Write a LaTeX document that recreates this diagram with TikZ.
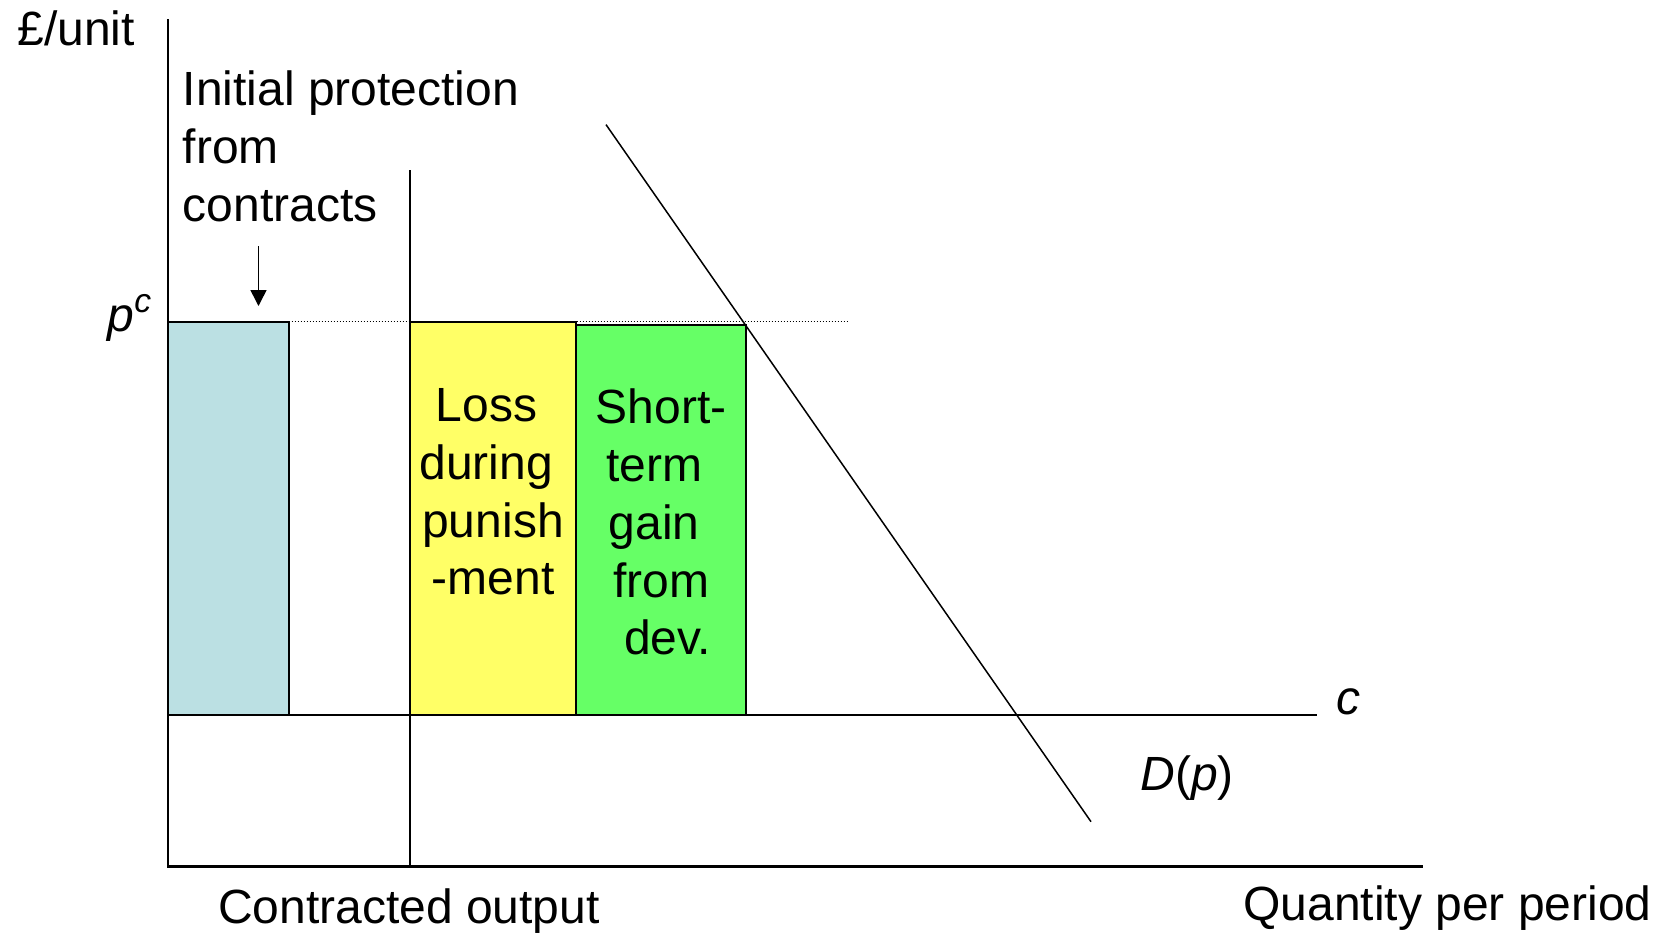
\documentclass[tikz,border=0pt]{standalone}
\usepackage{fontspec}
\setmainfont{Liberation Sans}
\usetikzlibrary{arrows.meta}
\definecolor{cyanfill}{HTML}{BBE0E3}
\definecolor{yellowfill}{HTML}{FFFF66}
\definecolor{greenfill}{HTML}{66FF66}
\newcommand\padsp{\hbox to .278em{}}
\begin{document}
\begin{tikzpicture}[x=0.5pt,y=-0.5pt,
  lbl/.style={inner sep=0pt, font=\fontsize{24}{28.9}\selectfont},
  axisline/.style={line width=1.1pt},
  plainline/.style={line width=0.75pt},
  boxedge/.style={line width=0.9pt},
  dotline/.style={line width=0.75pt, dash pattern=on 0.75pt off 0.75pt},
  arrowline/.style={line width=0.75pt, -{Triangle[length=8pt,width=8pt]}}]
\useasboundingbox (0,0) rectangle (1670,934);
% coordinates
\coordinate (O) at (168,866.5);
\coordinate (ytop) at (168,19);
\coordinate (xend) at (1423,866.5);
\coordinate (vtop) at (410,170);
\coordinate (vbot) at (410,866.5);
\coordinate (cleft) at (168,715);
\coordinate (cright) at (1317,715);
\coordinate (dtop) at (606,124.6);
\coordinate (dbot) at (1091,821.7);
\coordinate (pcstart) at (288.6,321.7);
\coordinate (pcend) at (847,321.7);
\coordinate (atop) at (258.5,246);
\coordinate (atip) at (258.5,306);
% fills
\fill[cyanfill] (168,321.7) rectangle (288.6,715);
\fill[yellowfill] (410,321.7) rectangle (576.2,715);
\fill[greenfill] (576.2,325) rectangle (745.6,715);
% dotted p^c line
\draw[dotline] (pcstart) -- (pcend);
% box edges
\draw[boxedge] (168,321.7) rectangle (288.6,715);
\draw[boxedge] (410,321.7) rectangle (576.2,715);
\draw[boxedge] (576.2,325) rectangle (745.6,715);
% lines
\draw[plainline] (cleft) -- (cright);
\draw[plainline] (vtop) -- (vbot);
\draw[plainline] (dtop) -- (dbot);
\draw[axisline] (ytop) -- (O) -- (xend);
\draw[arrowline] (atop) -- (atip);
% labels
\node[lbl, anchor=base west] (ylab) at (17,45) {£/unit};
\node[lbl, anchor=north west, align=left] (iplab) at (182.5,70.6) {Initial protection\\from\\contracts};
\node[lbl, anchor=base] (pclab) at (130,331) {\textit{p}\textsuperscript{\textit{c}}};
\node[lbl, anchor=north, align=center] (losslab) at (493,388) {Loss\padsp\\during\padsp\\punish\\-ment};
\node[lbl, anchor=north, align=center] (gainlab) at (661,388.5) {Short-\\term\padsp\\gain\padsp\\from\\\padsp dev.};
\node[lbl, anchor=base west] (clab) at (1336,714) {\textit{c}};
\node[lbl, anchor=base west] (dlab) at (1140,790.7) {\textit{D}(\textit{p})};
\node[lbl, anchor=base] (colab) at (409,923) {Contracted output};
\node[lbl, anchor=base east] (qlab) at (1652,920) {Quantity per period};
\end{tikzpicture}
\end{document}
